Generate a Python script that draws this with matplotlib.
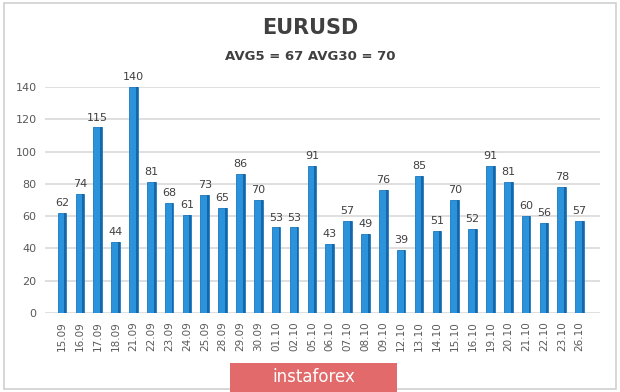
import numpy as np
import matplotlib.pyplot as plt
from matplotlib.patches import Rectangle

# dates and daily volatility (points)
dates = ['15.09', '16.09', '17.09', '18.09', '21.09', '22.09', '23.09', '24.09',
         '25.09', '28.09', '29.09', '30.09', '01.10', '02.10', '05.10', '06.10',
         '07.10', '08.10', '09.10', '12.10', '13.10', '14.10', '15.10', '16.10',
         '19.10', '20.10', '21.10', '22.10', '23.10', '26.10']
values = [62, 74, 115, 44, 140, 81, 68, 61, 73, 65, 86, 70, 53, 53, 91, 43,
          57, 49, 76, 39, 85, 51, 70, 52, 91, 81, 60, 56, 78, 57]
yticks = [0, 20, 40, 60, 80, 100, 120, 140]

x = np.arange(len(dates))

fig = plt.figure(figsize=(6.2, 3.92), dpi=100)
ax = fig.add_axes([0.0726, 0.2015, 0.8954, 0.5765])

# main bars plus a darker side strip for the 3d look
ax.bar(x, values, width=0.48, color='#2b93db', edgecolor='#1c77bd', linewidth=0.6, zorder=3)
ax.bar(x + 0.19, values, width=0.1, color='#1767a8', linewidth=0, zorder=4)

for xi, v in zip(x, values):
    ax.text(xi, v + 3, str(v), ha='center', va='bottom', fontsize=8,
            color='#404040', clip_on=False)

ax.set_xlim(-0.95, 30.15)
ax.set_ylim(0, 140)
ax.set_yticks(yticks)
ax.set_yticklabels([str(t) for t in yticks], fontsize=8, color='#595959')
ax.set_xticks(x)
ax.set_xticklabels(dates, rotation=90, fontsize=7.5, color='#595959')
ax.tick_params(length=0, pad=6)
ax.grid(axis='y', color='#d9d9d9', linewidth=1.2, zorder=0)
for s in ax.spines.values():
    s.set_visible(False)

fig.text(0.5, 0.928, 'EURUSD', ha='center', va='center', fontsize=15,
         fontweight='bold', color='#404040')
fig.text(0.5, 0.855, 'AVG5 = 67 AVG30 = 70', ha='center', va='center', fontsize=9.5,
         fontweight='bold', color='#404040')

# outer frame
fig.patches.append(Rectangle((0.006, 0.008), 0.988, 0.984, transform=fig.transFigure,
                             fill=False, edgecolor='#d0d0d0', linewidth=1.2))

# watermark box
fig.patches.append(Rectangle((230 / 620, 0), 167 / 620, 29 / 392, transform=fig.transFigure,
                             facecolor='#e36a6a', edgecolor='none'))
fig.text(313.5 / 620, 15 / 392, 'instaforex', ha='center', va='center', fontsize=12,
         color='white')

fig.savefig('out.png', dpi=100)
